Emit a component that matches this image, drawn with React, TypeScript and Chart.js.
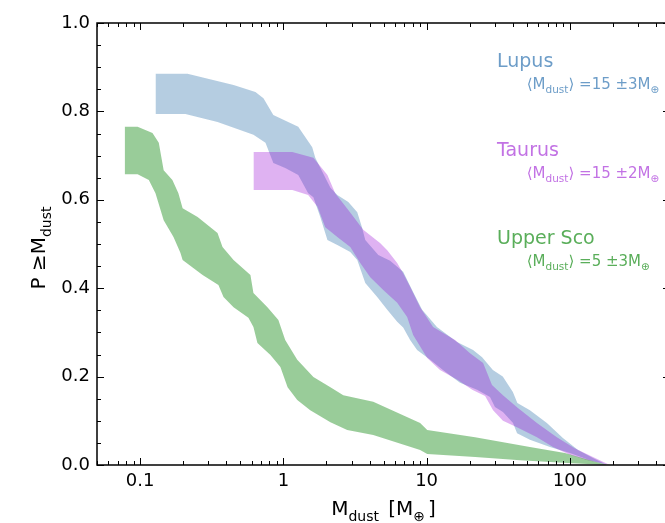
import React, { useEffect, useRef } from "react";
import { Chart, registerables } from "chart.js";

Chart.register(...registerables);

// ---------- data ----------
const lupusUpperX = [0.128, 0.214, 0.449, 0.638, 0.726, 0.851, 1.0, 1.27, 1.36, 1.59, 1.67, 2.13, 2.38, 2.84, 3.28, 3.55, 3.73, 4.6, 5.56, 6.86, 7.92, 9.3, 11.8, 16.3, 21.1, 24.4, 29, 34, 40, 43, 52.6, 69.1, 89.4, 114, 145, 182];
const lupusUpperY = [0.885, 0.885, 0.86, 0.844, 0.83, 0.792, 0.781, 0.765, 0.751, 0.719, 0.695, 0.627, 0.611, 0.595, 0.572, 0.536, 0.509, 0.475, 0.462, 0.437, 0.396, 0.351, 0.312, 0.278, 0.26, 0.244, 0.215, 0.2, 0.165, 0.14, 0.124, 0.095, 0.061, 0.034, 0.016, 0.0];
const lupusLowerX = [0.128, 0.207, 0.347, 0.618, 0.75, 0.851, 1.03, 1.27, 1.49, 1.62, 1.81, 2.03, 2.38, 2.93, 3.28, 3.73, 4.52, 5.31, 6.23, 6.86, 7.67, 8.58, 10.6, 13.0, 17.1, 22.5, 27.7, 30.0, 34.1, 40.1, 42.8, 52.6, 72.6, 100, 138, 182];
const lupusLowerY = [0.794, 0.794, 0.776, 0.747, 0.729, 0.683, 0.672, 0.656, 0.615, 0.606, 0.561, 0.509, 0.498, 0.482, 0.464, 0.412, 0.38, 0.351, 0.324, 0.311, 0.283, 0.26, 0.238, 0.215, 0.186, 0.17, 0.154, 0.131, 0.12, 0.095, 0.072, 0.057, 0.041, 0.027, 0.011, 0.0];

const taurusUpperX = [0.618, 1.155, 1.62, 2.03, 2.3, 2.84, 3.61, 4.73, 5.31, 6.23, 6.86, 7.67, 9.01, 11.1, 15.8, 20.1, 24.8, 28.6, 34.1, 43.4, 58.9, 81.1, 108, 145, 190];
const taurusUpperY = [0.708, 0.708, 0.695, 0.656, 0.615, 0.577, 0.532, 0.502, 0.486, 0.457, 0.434, 0.403, 0.357, 0.312, 0.283, 0.253, 0.231, 0.181, 0.158, 0.129, 0.095, 0.063, 0.038, 0.018, 0.0];
const taurusLowerX = [0.618, 1.155, 1.49, 1.73, 1.96, 2.38, 2.93, 3.44, 4.04, 4.98, 6.23, 7.31, 8.05, 10.1, 12.4, 16.6, 20.8, 25.6, 29.1, 34.1, 43.4, 58.9, 76.2, 100, 133, 190];
const taurusLowerY = [0.622, 0.622, 0.611, 0.584, 0.538, 0.516, 0.493, 0.457, 0.425, 0.396, 0.367, 0.335, 0.294, 0.242, 0.215, 0.192, 0.17, 0.156, 0.124, 0.1, 0.084, 0.063, 0.041, 0.023, 0.011, 0.0];

const upperScoUpperX = [0.078, 0.096, 0.122, 0.135, 0.146, 0.168, 0.185, 0.198, 0.252, 0.347, 0.376, 0.449, 0.589, 0.618, 0.774, 0.923, 1.03, 1.25, 1.62, 2.13, 2.62, 4.24, 9.01, 10.1, 21.8, 52.6, 92.3, 138, 182];
const upperScoUpperY = [0.765, 0.765, 0.751, 0.729, 0.667, 0.645, 0.615, 0.581, 0.561, 0.525, 0.493, 0.464, 0.43, 0.389, 0.357, 0.328, 0.283, 0.238, 0.199, 0.176, 0.158, 0.143, 0.095, 0.079, 0.063, 0.041, 0.027, 0.011, 0.0];
const upperScoLowerX = [0.078, 0.096, 0.115, 0.128, 0.146, 0.171, 0.191, 0.198, 0.273, 0.352, 0.382, 0.449, 0.57, 0.618, 0.659, 0.812, 0.953, 1.07, 1.25, 1.54, 2.13, 2.79, 4.24, 9.01, 10.1, 21.8, 44.9, 89.4, 182];
const upperScoLowerY = [0.658, 0.658, 0.645, 0.615, 0.554, 0.516, 0.48, 0.464, 0.43, 0.407, 0.38, 0.357, 0.333, 0.312, 0.276, 0.249, 0.222, 0.176, 0.147, 0.124, 0.097, 0.079, 0.068, 0.034, 0.025, 0.018, 0.011, 0.005, 0.0];

const regionNames = ["Lupus", "Taurus", "Upper Sco"];
const regionMeans = ["15", "15", "5"];
const regionErrors = ["3", "2", "3"];

const xTickValues = [0.1, 1, 10, 100];
const xTickLabels = ["0.1", "1", "10", "100"];
const yTickValues = [0, 0.2, 0.4, 0.6, 0.8, 1.0];
const yTickLabels = ["0.0", "0.2", "0.4", "0.6", "0.8", "1.0"];

// ---------- styling ----------
const FONT = '"DejaVu Sans"';
const fillColors = ["rgba(70,130,180,0.4)", "rgba(148,0,211,0.3)", "rgba(0,128,0,0.4)"];
const textColors = ["#6d9dc8", "#c272e4", "#5aae5a"];
const X_MIN = 0.05;
const X_MAX = 500;

type Part = { t: string; sub?: boolean; gap?: number };

function drawRich(ctx: CanvasRenderingContext2D, parts: Part[], x: number, y: number, size: number, align: "left" | "center", subShift: number) {
  const subSize = size * 0.7;
  const widths = parts.map((p) => {
    ctx.font = `${p.sub ? subSize : size}px ${FONT}`;
    return ctx.measureText(p.t).width + (p.gap || 0) * size;
  });
  const total = widths.reduce((a, b) => a + b, 0);
  let cx = align === "center" ? x - total / 2 : x;
  ctx.textAlign = "left";
  ctx.textBaseline = "alphabetic";
  parts.forEach((p, i) => {
    ctx.font = `${p.sub ? subSize : size}px ${FONT}`;
    ctx.fillText(p.t, cx, p.sub ? y + size * subShift : y);
    cx += widths[i];
  });
}

const decorPlugin = {
  id: "decor",
  afterDatasetsDraw(chart: any) {
    const { ctx, chartArea: a, scales } = chart;
    const xs = scales.x;
    const ys = scales.y;
    ctx.save();
    ctx.strokeStyle = "#000";
    ctx.lineWidth = 1;
    const MAJ = 7;
    const MIN = 4;
    ctx.beginPath();
    const xMinor: number[] = [];
    for (let d = -2; d <= 3; d++) {
      for (let m = 2; m <= 9; m++) {
        const v = m * Math.pow(10, d);
        if (v >= X_MIN && v <= X_MAX) xMinor.push(v);
      }
    }
    xMinor.forEach((v) => {
      const px = Math.round(xs.getPixelForValue(v)) + 0.5;
      ctx.moveTo(px, a.bottom);
      ctx.lineTo(px, a.bottom - MIN);
      ctx.moveTo(px, a.top);
      ctx.lineTo(px, a.top + MIN);
    });
    xTickValues.forEach((v) => {
      const px = Math.round(xs.getPixelForValue(v)) + 0.5;
      ctx.moveTo(px, a.bottom);
      ctx.lineTo(px, a.bottom - MAJ);
      ctx.moveTo(px, a.top);
      ctx.lineTo(px, a.top + MAJ);
    });
    for (let k = 0; k <= 20; k++) {
      const v = k * 0.05;
      const isMajor = k % 4 === 0;
      const len = isMajor ? MAJ : MIN;
      const py = Math.round(ys.getPixelForValue(v)) + 0.5;
      ctx.moveTo(a.left, py);
      ctx.lineTo(a.left + len, py);
      ctx.moveTo(a.right, py);
      ctx.lineTo(a.right - len, py);
    }
    ctx.stroke();
    ctx.lineWidth = 1.5;
    ctx.strokeRect(a.left, a.top, a.right - a.left, a.bottom - a.top);
    ctx.restore();
  },
  afterDraw(chart: any) {
    const { ctx, chartArea: a, scales } = chart;
    const xs = scales.x;
    const ys = scales.y;
    ctx.save();
    ctx.fillStyle = "#000";
    drawRich(
      ctx,
      [{ t: "M" }, { t: "dust", sub: true, gap: 0.15 }, { t: " [M" }, { t: "⊕", sub: true, gap: 0.15 }, { t: "]" }],
      (a.left + a.right) / 2,
      515,
      20,
      "center",
      0.32
    );
    ctx.save();
    ctx.translate(45, (a.top + a.bottom) / 2 + 4);
    ctx.rotate(-Math.PI / 2);
    drawRich(ctx, [{ t: "P ≥M" }, { t: "dust", sub: true }], 0, 0, 20, "center", 0.32);
    ctx.restore();
    const titleY = [0.9, 0.7, 0.5];
    regionNames.forEach((name, i) => {
      ctx.fillStyle = textColors[i];
      ctx.font = `19px ${FONT}`;
      ctx.textAlign = "left";
      ctx.textBaseline = "alphabetic";
      ctx.fillText(name, xs.getPixelForValue(31), ys.getPixelForValue(titleY[i]));
      drawRich(
        ctx,
        [
          { t: "⟨M" },
          { t: "dust", sub: true },
          { t: `⟩ =${regionMeans[i]} ±${regionErrors[i]}M` },
          { t: "⊕", sub: true },
        ],
        xs.getPixelForValue(50),
        ys.getPixelForValue(titleY[i] - 0.05),
        15,
        "left",
        0.27
      );
    });
    ctx.restore();
  },
};

function band(xv: number[], yv: number[]) {
  return xv.map((x, i) => ({ x, y: yv[i] }));
}

export default function App() {
  const ref = useRef<HTMLCanvasElement | null>(null);
  useEffect(() => {
    if (!ref.current) return;
    const common = { borderWidth: 0, borderColor: "rgba(0,0,0,0)", pointRadius: 0, pointHoverRadius: 0, tension: 0 };
    const chart = new Chart(ref.current, {
      type: "line",
      data: {
        datasets: [
          { ...common, label: "Lupus lower", data: band(lupusLowerX, lupusLowerY), fill: false, order: 3 },
          { ...common, label: "Lupus", data: band(lupusUpperX, lupusUpperY), fill: "-1", backgroundColor: fillColors[0], order: 3 },
          { ...common, label: "Taurus lower", data: band(taurusLowerX, taurusLowerY), fill: false, order: 2 },
          { ...common, label: "Taurus", data: band(taurusUpperX, taurusUpperY), fill: "-1", backgroundColor: fillColors[1], order: 2 },
          { ...common, label: "Upper Sco lower", data: band(upperScoLowerX, upperScoLowerY), fill: false, order: 1 },
          { ...common, label: "Upper Sco", data: band(upperScoUpperX, upperScoUpperY), fill: "-1", backgroundColor: fillColors[2], order: 1 },
        ] as any,
      },
      options: {
        responsive: false,
        animation: false,
        devicePixelRatio: 1,
        layout: { padding: { top: 23, right: 10, left: 0, bottom: 0 } },
        plugins: { legend: { display: false }, tooltip: { enabled: false } },
        events: [],
        scales: {
          x: {
            type: "logarithmic",
            min: X_MIN,
            max: X_MAX,
            grid: { display: false, drawTicks: false },
            border: { display: false },
            afterBuildTicks: (s: any) => {
              s.ticks = xTickValues.map((v) => ({ value: v }));
            },
            afterFit: (s: any) => {
              s.height = 58;
            },
            ticks: {
              autoSkip: false,
              maxRotation: 0,
              padding: 6,
              color: "#000",
              font: { family: "DejaVu Sans", size: 18 },
              callback: (_v: any, i: number) => xTickLabels[i],
            },
          },
          y: {
            type: "linear",
            min: 0,
            max: 1,
            grid: { display: false, drawTicks: false },
            border: { display: false },
            afterBuildTicks: (s: any) => {
              s.ticks = yTickValues.map((v) => ({ value: v }));
            },
            afterFit: (s: any) => {
              s.width = 97;
            },
            ticks: {
              autoSkip: false,
              padding: 7,
              color: "#000",
              font: { family: "DejaVu Sans", size: 18 },
              callback: (_v: any, i: number) => yTickLabels[i],
            },
          },
        },
      } as any,
      plugins: [decorPlugin as any],
    });
    return () => chart.destroy();
  }, []);
  return (
    <div style={{ position: "fixed", left: 0, top: 0, width: 665, height: 523, overflow: "hidden", background: "#fff" }}>
      <canvas ref={ref} width={680} height={523} style={{ display: "block" }} />
    </div>
  );
}
